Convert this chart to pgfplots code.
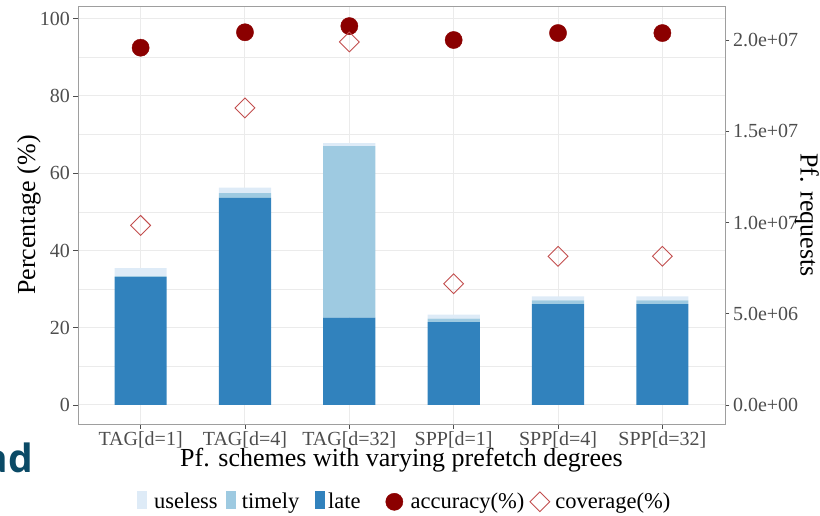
\documentclass[border=0pt]{standalone}
\usepackage{fontspec}
\setmainfont{Liberation Serif}
\newfontfamily\logofont{Open Sans}
\usepackage{pgfplots}
\usepackage{pgfplotstable}
\pgfplotsset{compat=1.18}

\definecolor{late}{HTML}{3182BD}
\definecolor{timely}{HTML}{9ECAE1}
\definecolor{useless}{HTML}{DEEBF7}
\definecolor{acc}{HTML}{8B0000}
\definecolor{cov}{HTML}{C24E4E}
\definecolor{gridc}{HTML}{EBEBEB}
\definecolor{tickc}{HTML}{4D4D4D}
\definecolor{framec}{HTML}{9E9E9E}
\definecolor{logoc}{HTML}{0B4A66}

% prefetch requests per scheme, split by outcome
\pgfplotstableread{
x late    timely  useless
1 7.01e6  0.06e6  0.43e6
2 11.35e6 0.27e6  0.30e6
3 4.79e6  9.40e6  0.17e6
4 4.55e6  0.19e6  0.21e6
5 5.53e6  0.21e6  0.21e6
6 5.53e6  0.21e6  0.21e6
}\requests

% accuracy and coverage in percent
\pgfplotstableread{
x accuracy coverage
1 92.5 46.5
2 96.5 76.9
3 98.1 94.0
4 94.5 31.4
5 96.3 38.5
6 96.3 38.5
}\quality

\pgfplotsset{
  panel/.style={
    scale only axis, width=647pt, height=418pt,
    at={(78pt,91pt)}, anchor=south west,
    xmin=0.4, xmax=6.6,
  },
  pct/.style={ymin=-4.92, ymax=103.3},
}

\begin{document}
\begin{tikzpicture}[x=1pt,y=1pt]
\useasboundingbox (0,0) rectangle (820,515);

\node[anchor=base east, text=logoc, font=\logofont\bfseries\fontsize{39}{45}\selectfont, inner sep=0pt]
  at (33,43) {ad};

% panel: frame, grid, left and bottom scales
\begin{axis}[panel, pct,
  xtick={1,...,6},
  xticklabels={{TAG[d=1]},{TAG[d=4]},{TAG[d=32]},{SPP[d=1]},{SPP[d=4]},{SPP[d=32]}},
  ytick={0,20,...,100},
  minor ytick={10,30,...,90},
  grid=both,
  major grid style={gridc, line width=1pt},
  minor grid style={gridc, line width=0.5pt},
  axis line style={framec, line width=0.9pt},
  tick align=outside, major tick length=4.5pt, minor tick length=0pt,
  tick style={tickc, line width=0.8pt},
  xtick pos=bottom, ytick pos=left,
  ticklabel style={font=\fontsize{20}{24}\selectfont, text=tickc},
  /pgf/number format/assume math mode=true,
  xlabel={Pf. schemes with varying prefetch degrees},
  ylabel={Percentage (\%)},
  label style={font=\fontsize{26}{31}\selectfont},
  xlabel style={at={(axis description cs:0.5,-0.0865)}, anchor=center},
  ylabel style={at={(axis description cs:-0.0757,0.5)}, anchor=center},
]
\end{axis}

% stacked bars on the request scale (right)
\begin{axis}[panel,
  ymin=-1.0418e6, ymax=2.1874e7,
  axis x line=none, axis y line*=right,
  y axis line style={-, framec, line width=0.9pt},
  ytick={0,5e6,1e7,1.5e7,2e7},
  yticklabels={0.0e+00,5.0e+06,1.0e+07,1.5e+07,2.0e+07},
  scaled y ticks=false,
  tick align=outside, major tick length=4.5pt,
  tick style={tickc, line width=0.8pt},
  yticklabel style={font=\fontsize{20}{24}\selectfont, text=tickc},
  ylabel={Pf. requests},
  ylabel style={font=\fontsize{26}{31}\selectfont, rotate=180,
    at={(axis description cs:1.1267,0.5)}, anchor=center},
  ybar stacked, bar width=0.5,
]
\addplot[fill=late, draw=none] table[x=x, y=late] {\requests};
\addplot[fill=timely, draw=none] table[x=x, y=timely] {\requests};
\addplot[fill=useless, draw=none] table[x=x, y=useless] {\requests};
\end{axis}

% accuracy and coverage points on the percent scale, with legend
\begin{axis}[panel, pct,
  hide axis,
  legend columns=5,
  legend style={draw=none, fill=none, inner sep=0pt, outer sep=0pt,
    nodes={inner sep=0pt},
    font=\fontsize{22.5}{27}\selectfont,
    at={(axis description cs:0.0912,-0.1859)}, anchor=west},
]
\addlegendimage{legend image code/.code={%
  \path[draw=none, fill=none] (0pt,-7.3pt) rectangle (17pt,10.7pt);
  \fill[useless, draw=none] (0pt,-7.3pt) rectangle (10pt,10.7pt);}}
\addlegendentry{useless}
\addlegendimage{legend image code/.code={%
  \path[draw=none, fill=none] (0pt,-7.3pt) rectangle (24pt,10.7pt);
  \fill[timely, draw=none] (8pt,-7.3pt) rectangle (18pt,10.7pt);}}
\addlegendentry{timely}
\addlegendimage{legend image code/.code={%
  \path[draw=none, fill=none] (0pt,-7.3pt) rectangle (29pt,10.7pt);
  \fill[late, draw=none] (16pt,-7.3pt) rectangle (26pt,10.7pt);}}
\addlegendentry{late}
\addplot[only marks, mark=*, mark size=8.6pt, color=acc,
  legend image code/.code={%
    \path[draw=none, fill=none] (0pt,-8.6pt) rectangle (50pt,8.6pt);
    \path[draw=none, fill=none, mark=*, mark size=8.6pt,
      mark options={draw=acc, fill=acc}]
      plot coordinates {(33.6pt,0pt)};}]
  table[x=x, y=accuracy] {\quality};
\addlegendentry{accuracy(\%)}
\addplot[only marks, mark=square, mark size=7pt,
  mark options={rotate=45, draw=cov, fill=white, line width=0.9pt},
  legend image code/.code={%
    \path[draw=none, fill=none] (0pt,-10.5pt) rectangle (31pt,10.5pt);
    \path[draw=none, fill=none, mark=square, mark size=7pt,
      mark options={rotate=45, draw=cov, fill=white, line width=0.9pt}]
      plot coordinates {(15.5pt,0pt)};}]
  table[x=x, y=coverage] {\quality};
\addlegendentry{coverage(\%)}
\end{axis}
\end{tikzpicture}
\end{document}
